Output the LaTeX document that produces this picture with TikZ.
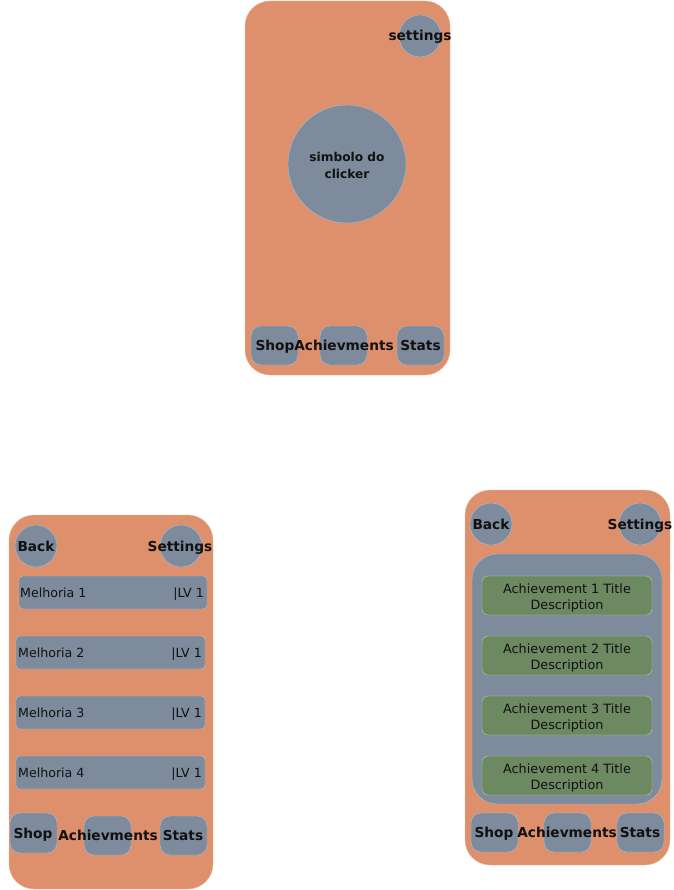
\documentclass[tikz,border=0pt]{standalone}
\usepackage{fontspec}
\setmainfont{DejaVu Sans}
\usepackage{xcolor}
\usepackage{tikz}
\definecolor{phonefill}{HTML}{DE8F6B}
\definecolor{phoneedge}{HTML}{F2B899}
\definecolor{greyfill}{HTML}{7D8B9D}
\definecolor{greyedge}{HTML}{A9C1D6}
\definecolor{cardfill}{HTML}{6D8961}
\definecolor{cardedge}{HTML}{B5D29C}
\definecolor{inktext}{HTML}{111111}
\tikzset{
  phone/.style={fill=phonefill,draw=phoneedge,rounded corners=25pt},
  greybox/.style={fill=greyfill,draw=greyedge,rounded corners=10pt},
  greybar/.style={fill=greyfill,draw=greyedge,rounded corners=4pt},
  greydot/.style={fill=greyfill,draw=greyedge},
  cardbox/.style={fill=cardfill,draw=cardedge,rounded corners=6pt},
  btntext/.style={inner sep=0pt,anchor=base,text=inktext,font=\bfseries\fontsize{13.7}{15}\selectfont},
  bartext/.style={inner sep=0pt,text=inktext,font=\fontsize{12.6}{14}\selectfont},
  cardtext/.style={inner sep=0pt,align=center,text=inktext,font=\fontsize{12.8}{16}\selectfont}
}

\begin{document}
\begin{tikzpicture}[x=1pt,y=-1pt]
\useasboundingbox (0,0) rectangle (673,890);
% main screen
\filldraw[phone] (245,1) rectangle (450,375);
\filldraw[greydot] (420,36) circle (21pt);
\node[btntext] (setA) at (420,41) {settings};
\filldraw[greydot] (347,164) circle (59pt);
\node[inner sep=0pt,text=inktext,align=center,font=\bfseries\fontsize{12.2}{17}\selectfont] (clicker) at (347,165) {simbolo do\\clicker};
\filldraw[greybox] (251,326) rectangle (298,365);
\filldraw[greybox] (320,326) rectangle (367,365);
\filldraw[greybox] (397,326) rectangle (444,365);
\node[btntext] (shopA) at (275,350) {Shop};
\node[btntext] (achA) at (344,350) {Achievments};
\node[btntext] (statsA) at (420.5,350) {Stats};

% shop screen
\filldraw[phone] (9,515) rectangle (213,889);
\filldraw[greydot] (36,546) circle (21pt);
\filldraw[greydot] (181,546) circle (21pt);
\node[btntext] (backB) at (36,551) {Back};
\node[btntext] (setB) at (180,551) {Settings};
\filldraw[greybar] (19,576) rectangle (207,609);
\filldraw[greybar] (16,636) rectangle (205,669);
\filldraw[greybar] (16,696) rectangle (205,729);
\filldraw[greybar] (16,756) rectangle (205,789);
\node[bartext,anchor=base west] (upg1) at (20,597) {Melhoria 1};
\node[bartext,anchor=base east] (lv1) at (204,597) {|LV 1};
\node[bartext,anchor=base west] (upg2) at (18,657) {Melhoria 2};
\node[bartext,anchor=base east] (lv2) at (202,657) {|LV 1};
\node[bartext,anchor=base west] (upg3) at (18,717) {Melhoria 3};
\node[bartext,anchor=base east] (lv3) at (202,717) {|LV 1};
\node[bartext,anchor=base west] (upg4) at (18,777) {Melhoria 4};
\node[bartext,anchor=base east] (lv4) at (202,777) {|LV 1};
\filldraw[greybox] (10,813) rectangle (57,853);
\filldraw[greybox] (84,816) rectangle (131,855);
\filldraw[greybox] (160,816) rectangle (207,855);
\node[btntext] (shopB) at (33,838) {Shop};
\node[btntext] (achB) at (108,840) {Achievments};
\node[btntext] (statsB) at (183,840) {Stats};

% achievements screen
\filldraw[phone] (465,490) rectangle (670,865);
\filldraw[greydot] (491,524) circle (21pt);
\filldraw[greydot] (640,524) circle (21pt);
\node[btntext] (backC) at (491,529) {Back};
\node[btntext] (setC) at (640,529) {Settings};
\filldraw[fill=greyfill,draw=greyedge,rounded corners=25pt] (472,554) rectangle (662,804);
\filldraw[cardbox] (482,576) rectangle (652,615);
\filldraw[cardbox] (482,636) rectangle (652,675);
\filldraw[cardbox] (482,696) rectangle (652,735);
\filldraw[cardbox] (482,756) rectangle (652,795);
\node[cardtext] (card1) at (567,597.5) {Achievement 1 Title\\Description};
\node[cardtext] (card2) at (567,657.5) {Achievement 2 Title\\Description};
\node[cardtext] (card3) at (567,717.5) {Achievement 3 Title\\Description};
\node[cardtext] (card4) at (567,777.5) {Achievement 4 Title\\Description};
\filldraw[greybox] (471,813) rectangle (518,852);
\filldraw[greybox] (544,813) rectangle (591,852);
\filldraw[greybox] (617,813) rectangle (664,852);
\node[btntext] (shopC) at (494,837) {Shop};
\node[btntext] (achC) at (567,837) {Achievments};
\node[btntext] (statsC) at (640,837) {Stats};
\end{tikzpicture}
\end{document}
